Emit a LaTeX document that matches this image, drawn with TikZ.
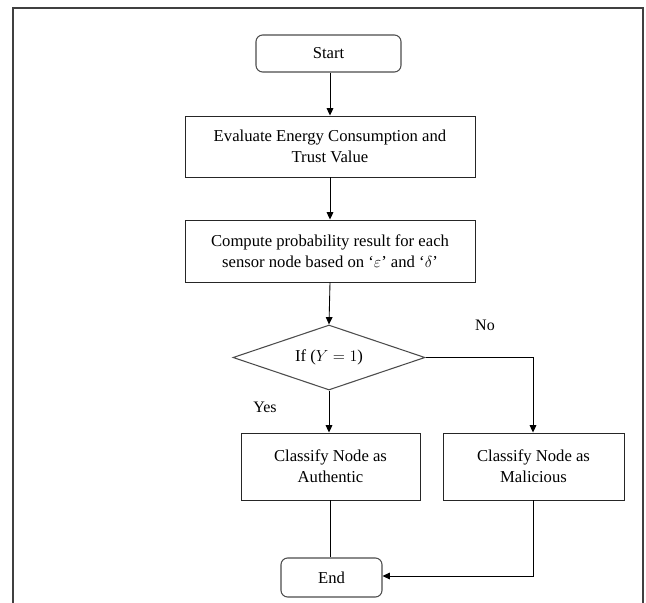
\documentclass[tikz,border=0pt]{standalone}
\usepackage{fontspec}
\setmainfont{Liberation Serif}
\usetikzlibrary{shapes.geometric,arrows.meta}
\begin{document}
\begin{tikzpicture}[x=0.75pt,y=-0.75pt,
  font=\fontsize{12.5}{16}\selectfont,
  every node/.style={inner sep=0pt, align=center},
  box/.style={draw=black!85, line width=0.7pt, rectangle},
  term/.style={draw=black!70, line width=0.8pt, rectangle, rounded corners=5pt},
  decide/.style={draw=black!70, line width=0.8pt, diamond, aspect=2.95},
  flow/.style={draw=black, line width=0.65pt},
  arr/.style={flow, -{Triangle[length=5.5pt,width=5pt]}},
  lbl/.style={font=\fontsize{12}{14}\selectfont}]
  \useasboundingbox (0,0) rectangle (646,603);
  % outer frame
  \draw[black!75, line width=0.8pt] (13,615) -- (13,8) -- (643,8) -- (643,615);

  \node[term, minimum width=108.75pt, minimum height=27.75pt] (start) at (328.5,53.5) {Start};
  \node[box, minimum width=217.5pt, minimum height=45.75pt] (eval) at (330,146.5)
    {Evaluate Energy Consumption and\\Trust Value};
  \node[box, minimum width=217.5pt, minimum height=46.5pt] (comp) at (330,251)
    {Compute probability result for each\\sensor node based on `$\varepsilon$' and `$\delta$'};
  \node[decide, minimum width=144pt, minimum height=48.75pt] (cond) at (329,357.5)
    {If ($Y = 1$)};
  \node[box, minimum width=134.25pt, minimum height=50.25pt] (auth) at (330.5,466.5)
    {Classify Node as\\Authentic};
  \node[box, minimum width=135.75pt, minimum height=50.25pt] (mal) at (533.5,466.5)
    {Classify Node as\\Malicious};
  \node[term, minimum width=75.75pt, minimum height=29.25pt] (end) at (331.5,577.5) {End};

  \node[lbl] (no) at (485,325) {No};
  \node[lbl] (yes) at (265,407) {Yes};

  \coordinate (turnA) at (533,357.5);
  \coordinate (turnB) at (533,576);

  \draw[arr] (start.south -| 330,0) -- (eval.north -| 330,0);
  \draw[arr] (eval.south -| 330,0) -- (comp.north -| 330,0);
  \draw[arr] (comp.south -| 330,0) -- (cond.north);
  \draw[arr] (cond.south) -- (cond.south |- auth.north);
  \draw[arr] (cond.east) -- (turnA) -- (mal.north -| turnA);
  \draw[flow] (auth.south) -- (auth.south |- end.north);
  \draw[arr] (mal.south -| turnB) -- (turnB) -- (end.east |- turnB);
\end{tikzpicture}
\end{document}
